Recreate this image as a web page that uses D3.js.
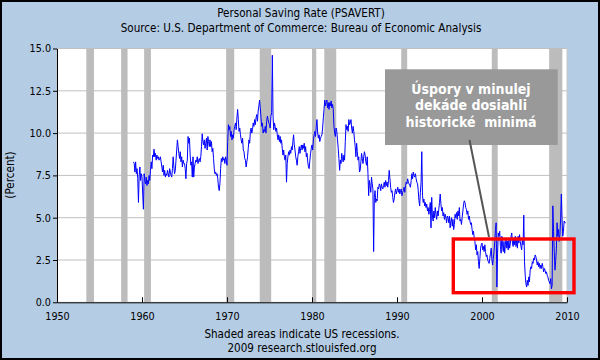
<!DOCTYPE html>
<html><head><meta charset="utf-8">
<script src="https://cdn.jsdelivr.net/npm/d3@7"></script>
<style>
body{margin:0;background:#fff;}
svg{display:block;}
text{font-family:"DejaVu Sans Condensed","DejaVu Sans",sans-serif;}
</style>
</head><body>
<svg id="chart" width="600" height="360"></svg>
<script>
// ---- data (monthly personal saving rate, %) ----
const rate1959 = [8.3,8.2,7.7,8.3,7.6,7.9,7.3,5.9,7.5,8.0,7.2,7.6];
const rate1960s = [
  7.4,6.4,5.5,7.6,7.2,7.0,7.4,6.9,7.2,7.0,7.5,7.2,
  7.8,8.3,7.9,8.7,8.6,9.05,8.6,8.8,8.4,8.7,8.5,8.6,
  8.4,8.5,8.6,8.3,8.0,7.7,8.1,7.5,7.8,7.4,7.6,7.5,
  7.8,7.6,7.4,7.9,7.7,7.5,7.4,7.9,8.6,8.0,7.6,7.8,
  8.4,9.0,9.6,9.2,8.8,8.5,8.9,8.3,8.6,8.0,8.4,8.2,
  8.2,7.9,7.3,8.2,8.4,9.8,9.4,9.7,8.7,8.1,8.3,7.4,
  8.6,7.4,8.0,8.2,8.4,8.3,8.6,8.2,8.4,8.5,8.3,8.6,
  9.2,9.96,9.5,9.3,9.6,9.1,9.4,9.7,9.0,9.8,9.5,9.2,
  9.6,9.2,9.5,8.9,9.1,8.5,7.9,7.6,7.7,7.5,7.6,7.3,
  6.8,6.6,7.0,7.9,8.5,8.3,8.6,8.4,8.5,8.2,8.6,8.4
];
const rate1970s = [
  8.1,9.5,10.5,10.2,10.4,9.8,10.1,9.6,9.9,9.7,10.2,10.4,
  10.6,10.2,10.9,11.4,10.8,10.1,10.3,9.9,9.6,9.4,9.7,9.0,
  8.9,8.5,8.4,8.0,8.3,8.6,9.1,9.6,9.4,10.1,10.3,10.0,
  10.2,10.6,10.4,10.8,10.5,10.9,11.1,10.7,11.3,11.6,11.95,11.5,
  10.9,10.4,10.6,10.0,10.2,10.1,10.4,10.0,10.7,11.0,10.8,10.6,
  10.5,10.3,11.0,11.2,14.6,11.0,10.2,10.6,10.4,10.1,10.3,9.9,
  9.6,9.9,9.5,9.8,9.4,9.6,9.1,8.7,9.0,8.6,8.4,8.7,
  7.1,8.2,8.6,8.9,8.7,9.0,8.8,9.2,9.0,9.5,9.9,9.3,
  9.0,8.6,8.4,8.1,8.6,8.9,9.2,8.8,9.1,9.3,9.0,9.3,
  9.1,9.4,8.9,9.2,8.6,8.8,8.3,8.0,7.9,8.4,8.8,9.1
];
const rate1980s = [
  9.3,9.0,9.6,9.9,10.1,9.8,10.4,10.8,10.0,9.7,9.9,9.5,
  9.7,9.8,9.9,10.3,10.9,11.4,11.95,11.6,11.8,11.95,11.5,11.8,
  11.4,11.8,11.6,11.9,11.5,11.7,11.4,10.4,10.0,9.8,10.3,10.1,
  9.6,9.1,8.5,7.8,8.4,8.2,8.8,8.5,8.3,8.7,8.4,9.5,
  10.5,10.2,10.4,10.1,10.8,10.5,10.6,10.8,10.3,10.0,10.4,10.1,
  9.6,9.2,8.6,9.4,8.9,8.4,8.6,7.7,7.8,8.3,8.8,8.5,
  8.2,8.6,8.9,8.7,8.3,8.1,8.6,7.6,6.3,7.2,6.9,6.5,
  7.4,7.0,6.7,3.0,6.2,6.6,5.9,6.1,6.0,6.8,6.7,7.0,
  6.9,6.6,7.0,6.8,6.7,6.9,7.1,6.8,7.2,6.9,7.1,6.8,
  7.2,7.8,7.3,6.8,6.5,6.6,6.2,5.9,6.1,6.5,6.7,6.4
];
const rate1990s = [
  6.6,6.8,6.5,6.7,6.4,6.6,6.7,6.3,6.5,6.6,6.8,6.5,
  6.9,7.1,7.0,7.3,7.1,7.0,6.9,6.8,7.2,7.6,7.3,7.7,
  7.5,7.4,7.6,7.3,7.1,7.0,6.6,6.0,5.7,6.5,7.1,8.9,
  6.3,5.9,6.1,5.7,5.9,5.6,5.8,5.4,5.6,5.2,5.5,5.9,
  4.4,6.2,5.1,4.8,5.4,5.0,5.6,5.2,4.9,5.4,5.1,5.5,
  5.9,6.4,5.8,5.4,5.6,5.1,5.3,4.9,5.2,5.0,4.7,5.1,
  5.0,4.7,5.1,4.4,4.8,5.0,4.5,4.9,4.3,4.6,5.2,5.0,
  5.3,4.9,5.4,5.1,5.6,4.8,4.9,4.6,5.0,5.4,5.8,6.0,
  5.9,5.6,5.5,5.2,5.4,4.9,5.1,4.8,4.6,4.7,4.3,4.0,
  4.2,3.8,3.6,3.1,3.4,2.8,3.0,2.4,2.0,2.6,3.2,3.4
];
const rate2000s = [
  3.5,3.1,3.3,3.0,3.4,3.0,2.7,2.8,2.5,2.4,2.3,2.6,
  2.9,3.2,2.5,2.2,2.6,3.0,3.6,4.3,4.7,0.9,2.9,4.1,
  3.9,4.2,3.3,2.9,3.9,3.4,3.0,3.6,2.9,3.4,3.8,3.2,
  3.6,3.1,3.7,3.2,3.5,3.9,4.1,3.5,3.3,3.8,3.4,3.9,
  3.3,3.7,3.2,3.9,3.5,4.0,3.6,3.3,3.1,3.7,3.4,5.15,
  2.4,1.6,1.1,0.9,1.3,1.0,1.5,1.2,1.9,2.1,2.0,2.4,
  2.3,2.6,2.5,2.8,2.7,2.5,2.2,2.4,2.1,2.3,2.0,2.2,
  2.0,2.3,2.1,1.8,2.0,1.9,1.7,1.8,1.6,1.5,1.3,1.2,
  1.1,1.4,0.8,1.0,5.7,4.2,3.0,1.9,2.4,3.2,4.7,3.9,
  4.3,3.6,4.0,5.0,6.4,4.9,3.9,4.2,4.8,4.7,4.7
];
const blockStartYears = [1959, 1960, 1970, 1980, 1990, 2000];
const recessionStarts = [1953.45,1957.55,1960.25,1969.9,1973.85,1980.0,1981.45,1990.5,2001.15,2007.9];
const recessionEnds   = [1954.35,1958.3,1961.05,1970.85,1975.2,1980.5,1982.85,1991.2,2001.85,2009.45];
const xTicks = [1950,1960,1970,1980,1990,2000,2010];
const yTicks = [0,2.5,5,7.5,10,12.5,15];
const titleText = "Personal Saving Rate (PSAVERT)";
const subtitleText = "Source: U.S. Department of Commerce: Bureau of Economic Analysis";
const footer1 = "Shaded areas indicate US recessions.";
const footer2 = "2009 research.stlouisfed.org";
const yLabel = "(Percent)";
const noteLines = ["Úspory v minulej", "dekáde dosiahli", "historické  minimá"];

// ---- build series ----
const blocks = [rate1959, rate1960s, rate1970s, rate1980s, rate1990s, rate2000s];
const series = blocks.flatMap((arr, b) => arr.map((v, i) => ({t: blockStartYears[b] + i / 12, v})));

// ---- layout ----
const svg = d3.select("#chart");
const L = 57, R = 567, T = 48.5, B = 302.3;
const x = d3.scaleLinear().domain([1950, 2010]).range([L, R]);
const y = d3.scaleLinear().domain([0, 15]).range([B, T]);

svg.append("rect").attr("x",1).attr("y",1).attr("width",598).attr("height",358)
  .attr("fill","#b4cce4").attr("stroke","#000").attr("stroke-width",2);

svg.append("rect").attr("x",L).attr("y",T).attr("width",R-L).attr("height",B-T)
  .attr("fill","#fff").attr("stroke","#c8c8c8").attr("stroke-width",1);

// gridlines
svg.append("g").selectAll("line").data(yTicks.filter(d => d > 0)).join("line")
  .attr("x1",L).attr("x2",R).attr("y1",d => y(d)).attr("y2",d => y(d))
  .attr("stroke","#c0c0c0").attr("stroke-width",1);

// recessions
svg.append("g").selectAll("rect").data(recessionStarts).join("rect")
  .attr("x",d => x(d)).attr("width",(d,i) => x(recessionEnds[i]) - x(d))
  .attr("y",T).attr("height",B-T).attr("fill","#bcbcbc");

// axes
const xAxis = svg.append("g").attr("transform",`translate(0,${B})`)
  .call(d3.axisBottom(x).tickValues(xTicks).tickFormat(d3.format("d"))
    .tickSizeInner(-5).tickSizeOuter(0).tickPadding(10));
const yAxis = svg.append("g").attr("transform",`translate(${L},0)`)
  .call(d3.axisLeft(y).tickValues(yTicks).tickFormat(d3.format(".1f"))
    .tickSizeInner(4).tickSizeOuter(0).tickPadding(2));
[xAxis, yAxis].forEach(g => {
  g.selectAll("text").attr("font-size",10.7).attr("fill","#000")
    .attr("font-family",'"DejaVu Sans Condensed","DejaVu Sans",sans-serif');
  g.selectAll("path,line").attr("stroke","#000");
});

// line
svg.append("path").datum(series)
  .attr("d", d3.line().x(d => x(d.t)).y(d => y(d.v)))
  .attr("fill","none").attr("stroke","#0000ff").attr("stroke-width",1);

// titles
svg.append("text").attr("x",301).attr("y",17).attr("text-anchor","middle")
  .attr("font-size",11.6).text(titleText);
svg.append("text").attr("x",301).attr("y",31.5).attr("text-anchor","middle")
  .attr("font-size",11.6).text(subtitleText);
svg.append("text").attr("x",302).attr("y",338).attr("text-anchor","middle")
  .attr("font-size",11.6).text(footer1);
svg.append("text").attr("x",302).attr("y",352).attr("text-anchor","middle")
  .attr("font-size",11.6).text(footer2);
svg.append("text").attr("transform","translate(14,175) rotate(-90)")
  .attr("text-anchor","middle").attr("font-size",11.6).text(yLabel);

// annotation
svg.append("rect").attr("x",385).attr("y",69.3).attr("width",172.7).attr("height",75.7)
  .attr("fill","#999999");
svg.append("line").attr("x1",469.5).attr("y1",140).attr("x2",489).attr("y2",237)
  .attr("stroke","#555").attr("stroke-width",2);
svg.append("g").selectAll("text").data(noteLines).join("text")
  .attr("x",471).attr("y",(d,i) => 93.5 + i*16.5).attr("text-anchor","middle")
  .attr("xml:space","preserve").style("white-space","pre")
  .attr("font-family",'"DejaVu Sans",sans-serif').attr("font-weight","bold")
  .attr("font-size",14).attr("fill","#fff").text(d => d);
svg.append("rect").attr("x",453.3).attr("y",239).attr("width",120.7).attr("height",53.7)
  .attr("fill","none").attr("stroke","#ff0000").attr("stroke-width",3.4);
</script>
</body></html>
